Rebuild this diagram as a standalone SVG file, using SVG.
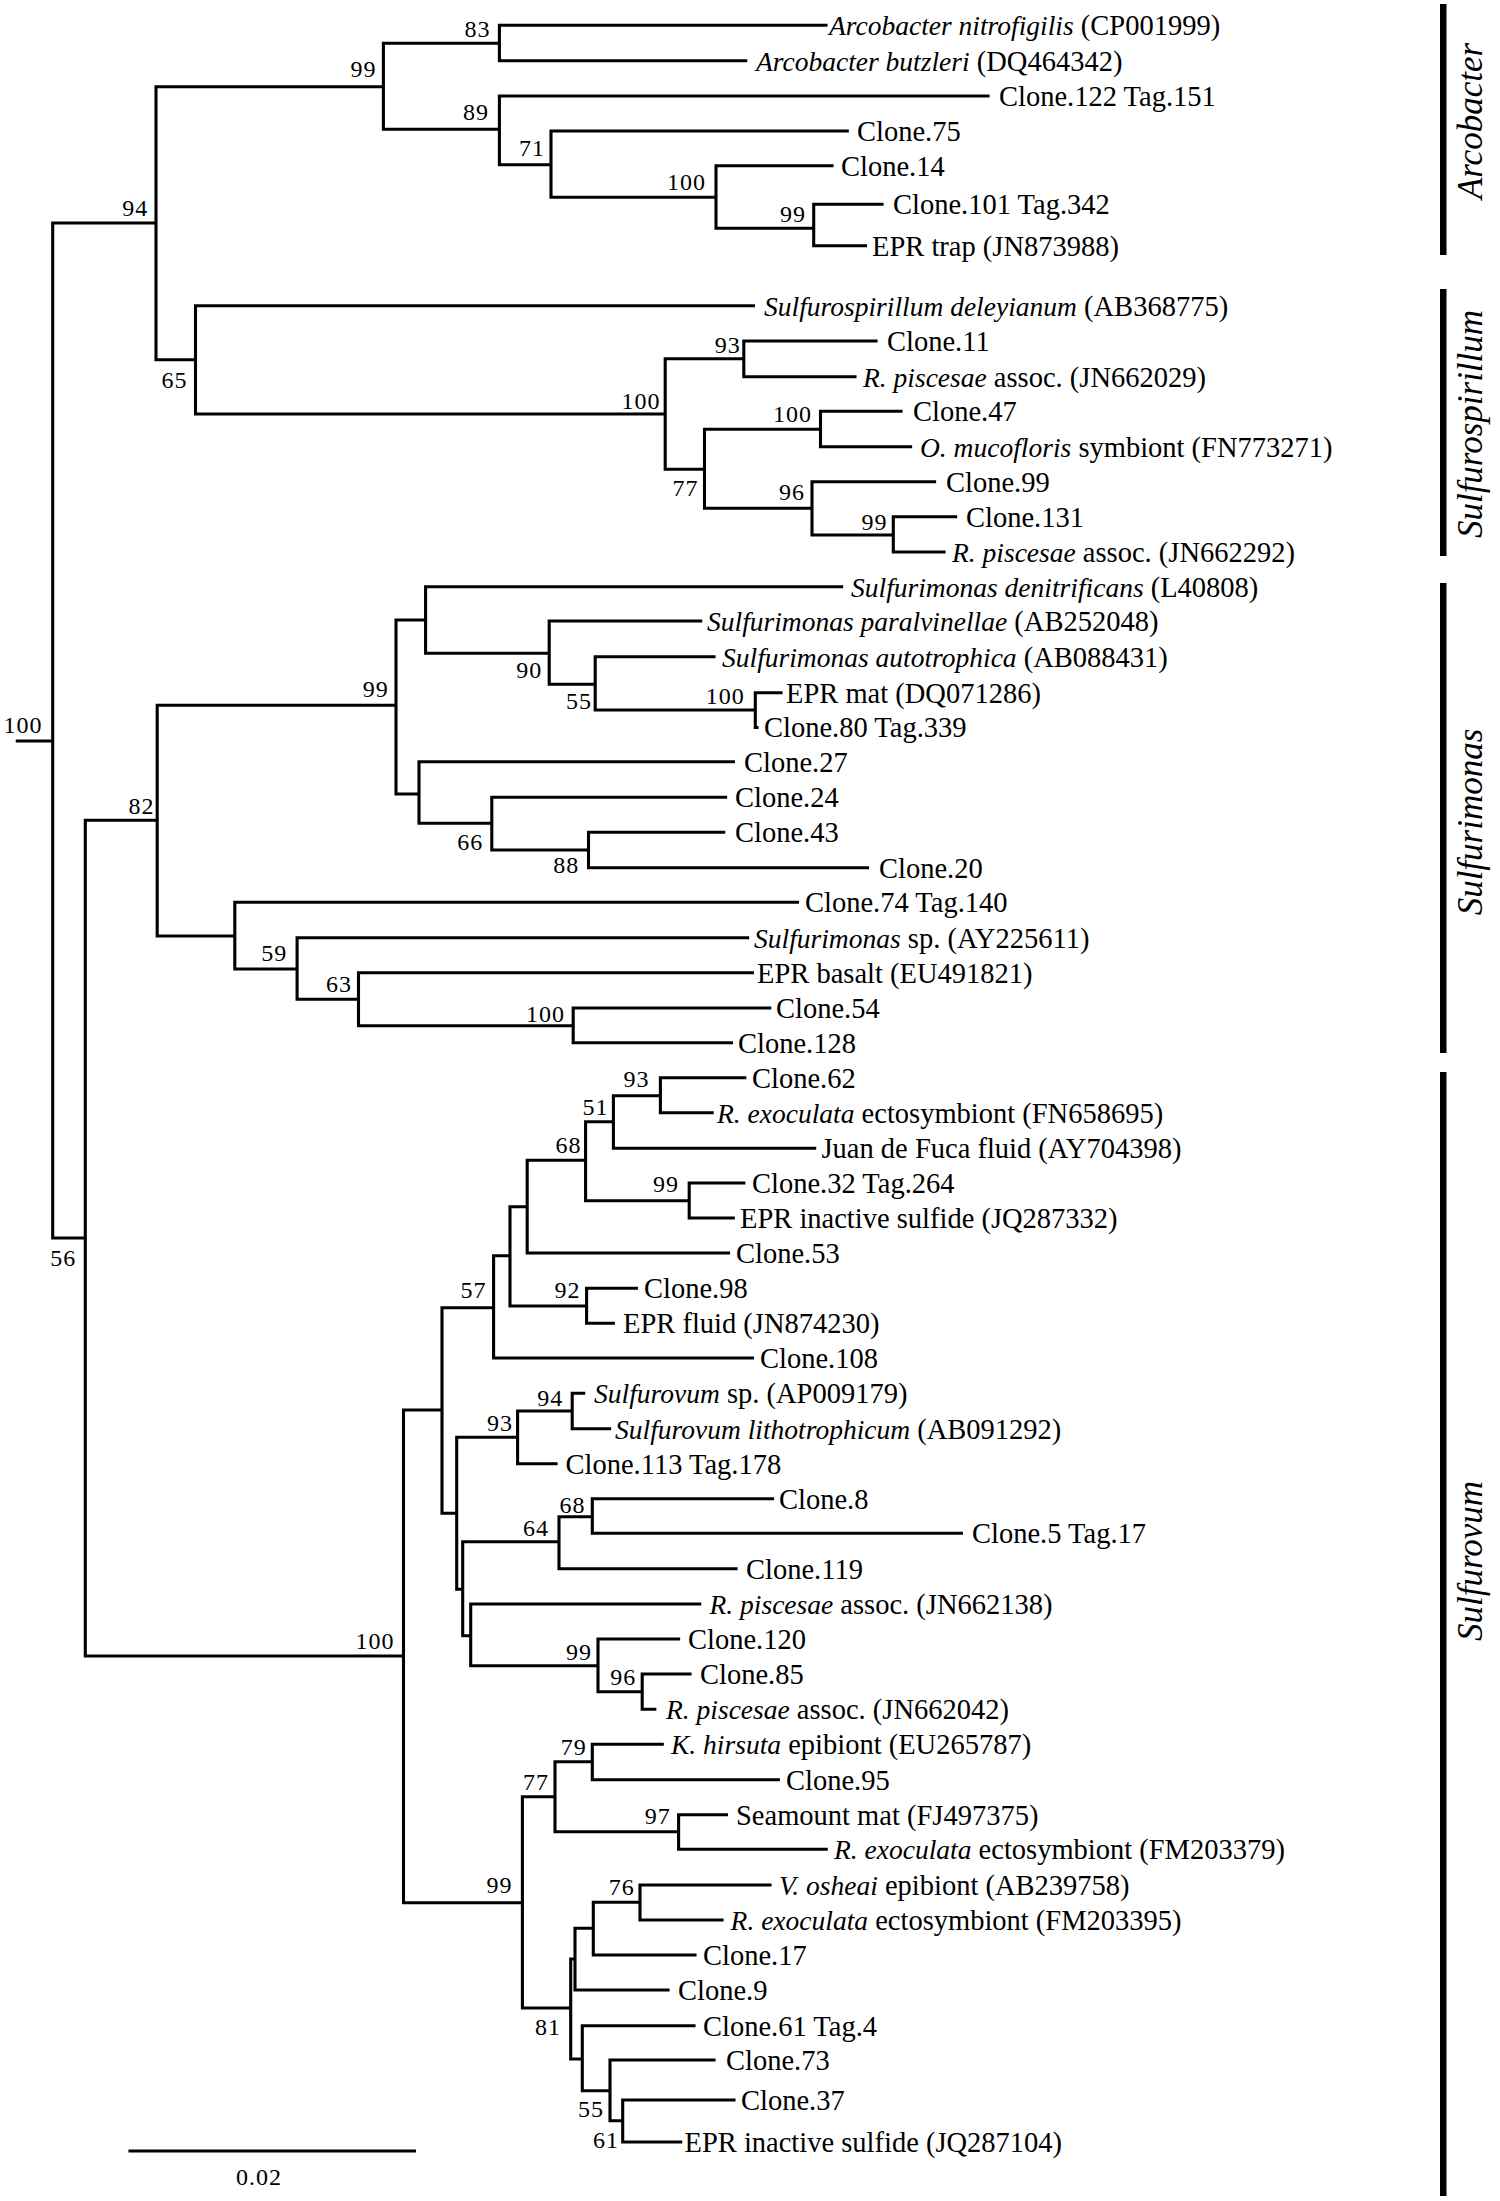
<svg xmlns="http://www.w3.org/2000/svg" width="1500" height="2201" viewBox="0 0 1500 2201">
<style>
.br{fill:none;stroke:#000;stroke-width:3.1;stroke-linecap:square}
.lf{font-family:"Liberation Serif","Times New Roman",serif;font-size:28.5px;fill:#000}
.it{font-style:italic;font-size:27.5px}
.bs{font-family:"Liberation Serif","Times New Roman",serif;font-size:24px;fill:#000;text-anchor:middle;letter-spacing:1px}
.cl{font-family:"Liberation Serif","Times New Roman",serif;font-size:35px;font-style:italic;fill:#000;text-anchor:middle}
.bar{fill:#000}
</style>
<rect width="1500" height="2201" fill="#fff"/>
<g id="connectors">
<path class="br" d="M17.3,741H52.7 M52.7,223V1238
M52.7,223H156 M156,86.7V359.7
M156,86.7H383.4 M383.4,43.3V129.3
M383.4,43.3H499.4 M499.4,25.3V60.7 M499.4,25.3H826 M499.4,60.7H745.7
M383.4,129.3H499.4 M499.4,96V164.7 M499.4,96H988
M499.4,164.7H551 M551,131V197.3 M551,131H847.3
M551,197.3H716 M716,165.7V228.3 M716,165.7H832
M716,228.3H813.7 M813.7,204.3V245.7 M813.7,204.3H882 M813.7,245.7H865.5
M156,359.7H195.5 M195.5,305.7V414 M195.5,305.7H753.4
M195.5,414H665.2 M665.2,358.7V469.3
M665.2,358.7H743.8 M743.8,341V376.7 M743.8,341H876 M743.8,376.7H855
M665.2,469.3H704.5 M704.5,429.3V508.3
M704.5,429.3H820.5 M820.5,411.3V446.7 M820.5,411.3H901 M820.5,446.7H910.6
M704.5,508.3H812 M812,481.7V535 M812,481.7H934.6
M812,535H893.3 M893.3,516.7V552 M893.3,516.7H955.6 M893.3,552H944
M52.7,1238H85.3 M85.3,820.3V1656
M85.3,820.3H157.2 M157.2,705.3V936
M157.2,705.3H396 M396,620V794
M396,620H425.6 M425.6,586.7V653.3 M425.6,586.7H841.6
M425.6,653.3H549.2 M549.2,621V684.3 M549.2,621H700.7
M549.2,684.3H595.2 M595.2,656.7V710 M595.2,656.7H714
M595.2,710H755.3 M755.3,692.7V727.5 M755.3,692.7H781 M755.3,727.5H757
M396,794H419 M419,761.7V823.3 M419,761.7H733.4
M419,823.3H491.8 M491.8,797.3V850 M491.8,797.3H725.6
M491.8,850H588.5 M588.5,832.3V867.7 M588.5,832.3H723.7 M588.5,867.7H867.5
M157.2,936H234.8 M234.8,902.3V969 M234.8,902.3H797.5
M234.8,969H297.1 M297.1,937.7V999.3 M297.1,937.7H747.6
M297.1,999.3H358.5 M358.5,972.7V1025.7 M358.5,972.7H752.4
M358.5,1025.7H573.2 M573.2,1008V1042.7 M573.2,1008H769.7 M573.2,1042.7H731.4
M85.3,1656H403.5 M403.5,1410V1902.7
M403.5,1410H442 M442,1307.7V1513.3
M442,1307.7H493.6 M493.6,1255.7V1358
M493.6,1255.7H510 M510,1206.7V1306
M510,1206.7H527.2 M527.2,1160.3V1253
M527.2,1160.3H585.6 M585.6,1121.7V1200.7
M585.6,1121.7H613.4 M613.4,1095.7V1148.3
M613.4,1095.7H660.4 M660.4,1077.7V1112.7 M660.4,1077.7H744.8 M660.4,1112.7H712.2
M613.4,1148.3H814.7
M585.6,1200.7H689.2 M689.2,1183V1218 M689.2,1183H743.8 M689.2,1218H733.3
M527.2,1253H728.5
M510,1306H586.6 M586.6,1288.3V1323.3 M586.6,1288.3H636.4 M586.6,1323.3H613.4
M493.6,1358H752.4
M442,1513.3H456.7 M456.7,1437.3V1589.3
M456.7,1437.3H517.6 M517.6,1411V1463.7
M517.6,1411H572.2 M572.2,1393.3V1428.7 M572.2,1393.3H583.7 M572.2,1428.7H609.6
M517.6,1463.7H556
M456.7,1589.3H462.7 M462.7,1541.7V1635.7
M462.7,1541.7H559 M559,1516.7V1568.7
M559,1516.7H592.3 M592.3,1498.7V1533.3 M592.3,1498.7H772.5 M592.3,1533.3H961.4
M559,1568.7H736
M462.7,1635.7H470.7 M470.7,1604V1665.7 M470.7,1604H699.7
M470.7,1665.7H598 M598,1639V1691.7 M598,1639H678.6
M598,1691.7H642.2 M642.2,1674V1709.3 M642.2,1674H690 M642.2,1709.3H654.8
M403.5,1902.7H522.4 M522.4,1796.7V2008
M522.4,1796.7H555 M555,1761.7V1831.7
M555,1761.7H592.3 M592.3,1744.3V1779.7 M592.3,1744.3H662.3 M592.3,1779.7H778.3
M555,1831.7H678.6 M678.6,1814.7V1849.3 M678.6,1814.7H726.5 M678.6,1849.3H826.2
M522.4,2008H570.7 M570.7,1959V2059
M570.7,1959H575 M575,1928.3V1990
M575,1928.3H593.3 M593.3,1902.3V1955
M593.3,1902.3H640 M640,1885V1920 M640,1885H770 M640,1920H722
M593.3,1955H695
M575,1990H668
M570.7,2059H582.3 M582.3,2025.7V2090.7 M582.3,2025.7H694
M582.3,2090.7H610 M610,2060V2120.7 M610,2060H714
M610,2120.7H622.7 M622.7,2100V2142 M622.7,2100H734 M622.7,2142H680.7"/>
</g>
<g id="support-values">
<text class="bs" x="135.2" y="216">94</text>
<text class="bs" x="363.4" y="76.8">99</text>
<text class="bs" x="477.5" y="37.3">83</text>
<text class="bs" x="476" y="119.8">89</text>
<text class="bs" x="532" y="156">71</text>
<text class="bs" x="686.5" y="189.5">100</text>
<text class="bs" x="793" y="222">99</text>
<text class="bs" x="174.5" y="387.8">65</text>
<text class="bs" x="641" y="408.5">100</text>
<text class="bs" x="727.7" y="352.5">93</text>
<text class="bs" x="685.5" y="495.8">77</text>
<text class="bs" x="792.4" y="422">100</text>
<text class="bs" x="792" y="499.5">96</text>
<text class="bs" x="874.4" y="529.5">99</text>
<text class="bs" x="23" y="732.5">100</text>
<text class="bs" x="141.4" y="813.5">82</text>
<text class="bs" x="375.8" y="696.8">99</text>
<text class="bs" x="529.2" y="678">90</text>
<text class="bs" x="579" y="709">55</text>
<text class="bs" x="725.3" y="704.3">100</text>
<text class="bs" x="470.3" y="849.5">66</text>
<text class="bs" x="566.2" y="872.8">88</text>
<text class="bs" x="274.2" y="961">59</text>
<text class="bs" x="339" y="992">63</text>
<text class="bs" x="545.5" y="1021.5">100</text>
<text class="bs" x="63.3" y="1266">56</text>
<text class="bs" x="636.6" y="1086.8">93</text>
<text class="bs" x="595.4" y="1115">51</text>
<text class="bs" x="568.6" y="1152.5">68</text>
<text class="bs" x="665.9" y="1191.8">99</text>
<text class="bs" x="473.6" y="1297.8">57</text>
<text class="bs" x="567.6" y="1297.8">92</text>
<text class="bs" x="550.3" y="1405.5">94</text>
<text class="bs" x="500" y="1431">93</text>
<text class="bs" x="572.4" y="1512.5">68</text>
<text class="bs" x="536" y="1536">64</text>
<text class="bs" x="374.9" y="1648.5">100</text>
<text class="bs" x="579" y="1659.8">99</text>
<text class="bs" x="623.2" y="1684.5">96</text>
<text class="bs" x="573.8" y="1754.5">79</text>
<text class="bs" x="536" y="1789.5">77</text>
<text class="bs" x="657.7" y="1824">97</text>
<text class="bs" x="499.5" y="1893">99</text>
<text class="bs" x="621.8" y="1894.8">76</text>
<text class="bs" x="548" y="2034.5">81</text>
<text class="bs" x="591" y="2117.3">55</text>
<text class="bs" x="606" y="2147.8">61</text>
</g>
<g id="leaf01"><text class="lf" x="829" y="35.3"><tspan class="it">Arcobacter nitrofigilis</tspan> (CP001999)</text></g>
<g id="leaf02"><text class="lf" x="756" y="70.7"><tspan class="it">Arcobacter butzleri</tspan> (DQ464342)</text></g>
<g id="leaf03"><text class="lf" x="999" y="106">Clone.122 Tag.151</text></g>
<g id="leaf04"><text class="lf" x="857" y="141">Clone.75</text></g>
<g id="leaf05"><text class="lf" x="841" y="175.7">Clone.14</text></g>
<g id="leaf06"><text class="lf" x="893" y="214.3">Clone.101 Tag.342</text></g>
<g id="leaf07"><text class="lf" x="872" y="255.7">EPR trap (JN873988)</text></g>
<g id="leaf08"><text class="lf" x="764" y="315.7"><tspan class="it">Sulfurospirillum deleyianum</tspan> (AB368775)</text></g>
<g id="leaf09"><text class="lf" x="887" y="351">Clone.11</text></g>
<g id="leaf10"><text class="lf" x="863" y="386.7"><tspan class="it">R. piscesae</tspan> assoc. (JN662029)</text></g>
<g id="leaf11"><text class="lf" x="913" y="421.3">Clone.47</text></g>
<g id="leaf12"><text class="lf" x="920" y="456.7"><tspan class="it">O. mucofloris</tspan> symbiont (FN773271)</text></g>
<g id="leaf13"><text class="lf" x="946" y="491.7">Clone.99</text></g>
<g id="leaf14"><text class="lf" x="966" y="526.7">Clone.131</text></g>
<g id="leaf15"><text class="lf" x="952" y="562"><tspan class="it">R. piscesae</tspan> assoc. (JN662292)</text></g>
<g id="leaf16"><text class="lf" x="851" y="596.7"><tspan class="it">Sulfurimonas denitrificans</tspan> (L40808)</text></g>
<g id="leaf17"><text class="lf" x="707" y="631"><tspan class="it">Sulfurimonas paralvinellae</tspan> (AB252048)</text></g>
<g id="leaf18"><text class="lf" x="722" y="666.7"><tspan class="it">Sulfurimonas autotrophica</tspan> (AB088431)</text></g>
<g id="leaf19"><text class="lf" x="786" y="702.7">EPR mat (DQ071286)</text></g>
<g id="leaf20"><text class="lf" x="764" y="736.7">Clone.80 Tag.339</text></g>
<g id="leaf21"><text class="lf" x="744" y="771.7">Clone.27</text></g>
<g id="leaf22"><text class="lf" x="735" y="807.3">Clone.24</text></g>
<g id="leaf23"><text class="lf" x="735" y="842.3">Clone.43</text></g>
<g id="leaf24"><text class="lf" x="879" y="877.7">Clone.20</text></g>
<g id="leaf25"><text class="lf" x="805" y="912.3">Clone.74 Tag.140</text></g>
<g id="leaf26"><text class="lf" x="754" y="947.7"><tspan class="it">Sulfurimonas</tspan> sp. (AY225611)</text></g>
<g id="leaf27"><text class="lf" x="757" y="982.7">EPR basalt (EU491821)</text></g>
<g id="leaf28"><text class="lf" x="776" y="1018">Clone.54</text></g>
<g id="leaf29"><text class="lf" x="738" y="1052.7">Clone.128</text></g>
<g id="leaf30"><text class="lf" x="752" y="1087.7">Clone.62</text></g>
<g id="leaf31"><text class="lf" x="717" y="1122.7"><tspan class="it">R. exoculata</tspan> ectosymbiont (FN658695)</text></g>
<g id="leaf32"><text class="lf" x="821.5" y="1158.3">Juan de Fuca fluid (AY704398)</text></g>
<g id="leaf33"><text class="lf" x="752" y="1193">Clone.32 Tag.264</text></g>
<g id="leaf34"><text class="lf" x="740" y="1228">EPR inactive sulfide (JQ287332)</text></g>
<g id="leaf35"><text class="lf" x="736" y="1263">Clone.53</text></g>
<g id="leaf36"><text class="lf" x="644" y="1298.3">Clone.98</text></g>
<g id="leaf37"><text class="lf" x="623" y="1333.3">EPR fluid (JN874230)</text></g>
<g id="leaf38"><text class="lf" x="760" y="1368">Clone.108</text></g>
<g id="leaf39"><text class="lf" x="594" y="1403.3"><tspan class="it">Sulfurovum</tspan> sp. (AP009179)</text></g>
<g id="leaf40"><text class="lf" x="615" y="1438.7"><tspan class="it">Sulfurovum lithotrophicum</tspan> (AB091292)</text></g>
<g id="leaf41"><text class="lf" x="565.5" y="1473.7">Clone.113 Tag.178</text></g>
<g id="leaf42"><text class="lf" x="779" y="1508.7">Clone.8</text></g>
<g id="leaf43"><text class="lf" x="972" y="1543.3">Clone.5 Tag.17</text></g>
<g id="leaf44"><text class="lf" x="746" y="1578.7">Clone.119</text></g>
<g id="leaf45"><text class="lf" x="709.5" y="1614"><tspan class="it">R. piscesae</tspan> assoc. (JN662138)</text></g>
<g id="leaf46"><text class="lf" x="688" y="1649">Clone.120</text></g>
<g id="leaf47"><text class="lf" x="700" y="1684">Clone.85</text></g>
<g id="leaf48"><text class="lf" x="666" y="1719.3"><tspan class="it">R. piscesae</tspan> assoc. (JN662042)</text></g>
<g id="leaf49"><text class="lf" x="671" y="1754.3"><tspan class="it">K. hirsuta</tspan> epibiont (EU265787)</text></g>
<g id="leaf50"><text class="lf" x="786" y="1789.7">Clone.95</text></g>
<g id="leaf51"><text class="lf" x="736" y="1824.7">Seamount mat (FJ497375)</text></g>
<g id="leaf52"><text class="lf" x="834" y="1859.3"><tspan class="it">R. exoculata</tspan> ectosymbiont (FM203379)</text></g>
<g id="leaf53"><text class="lf" x="779" y="1895"><tspan class="it">V. osheai</tspan> epibiont (AB239758)</text></g>
<g id="leaf54"><text class="lf" x="730.6" y="1930"><tspan class="it">R. exoculata</tspan> ectosymbiont (FM203395)</text></g>
<g id="leaf55"><text class="lf" x="703" y="1965">Clone.17</text></g>
<g id="leaf56"><text class="lf" x="678" y="2000">Clone.9</text></g>
<g id="leaf57"><text class="lf" x="703" y="2035.7">Clone.61 Tag.4</text></g>
<g id="leaf58"><text class="lf" x="726" y="2070">Clone.73</text></g>
<g id="leaf59"><text class="lf" x="741" y="2110">Clone.37</text></g>
<g id="leaf60"><text class="lf" x="684.5" y="2152">EPR inactive sulfide (JQ287104)</text></g>
<g id="clade-arcobacter"><rect class="bar" x="1440" y="4" width="6.5" height="251"/><text class="cl" x="1482" y="121" transform="rotate(-90 1482 121)">Arcobacter</text></g>
<g id="clade-sulfurospirillum"><rect class="bar" x="1440" y="289" width="6.5" height="267"/><text class="cl" x="1482" y="424" transform="rotate(-90 1482 424)">Sulfurospirillum</text></g>
<g id="clade-sulfurimonas"><rect class="bar" x="1440" y="583" width="6.5" height="470"/><text class="cl" x="1482" y="822" transform="rotate(-90 1482 822)">Sulfurimonas</text></g>
<g id="clade-sulfurovum"><rect class="bar" x="1440" y="1072" width="6.5" height="1124"/><text class="cl" x="1482" y="1561" transform="rotate(-90 1482 1561)">Sulfurovum</text></g>
<g id="scale-bar"><path class="br" d="M130,2151H414.5" stroke-linecap="butt"/><text class="bs" x="259" y="2184.5">0.02</text></g>
</svg>
